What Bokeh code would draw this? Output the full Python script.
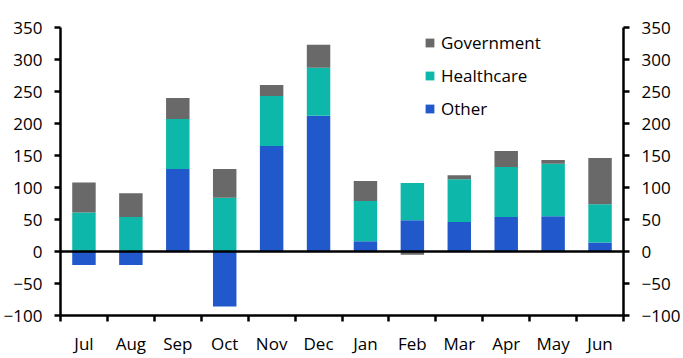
from bokeh.plotting import figure
from bokeh.models import (ColumnDataSource, LinearAxis, FixedTicker, Span, Range1d,
                          Legend, LegendItem)
from bokeh.embed import file_html
from bokeh.resources import INLINE

months = ["Jul", "Aug", "Sep", "Oct", "Nov", "Dec", "Jan", "Feb", "Mar", "Apr", "May", "Jun"]
other = [-21, -21, 129, -86, 165, 212, 16, 49, 46, 54, 55, 14]
healthcare = [61, 54, 78, 84, 78, 75, 63, 58, 67, 78, 82, 60]
government = [47, 37, 33, 45, 17, 36, 31, -5, 6, 25, 6, 72]
y_ticks = [-100, -50, 0, 50, 100, 150, 200, 250, 300, 350]

series = [("Other", other, "#2158cc"),
          ("Healthcare", healthcare, "#0db8aa"),
          ("Government", government, "#696969")]

FONT = "Open Sans"
FS = "17px"

p = figure(width=683, height=358, output_backend="svg", toolbar_location=None,
           x_range=Range1d(0, len(months)), y_range=Range1d(y_ticks[0], y_ticks[-1]),
           min_border_left=60, min_border_right=60, min_border_top=27, min_border_bottom=43)
p.outline_line_color = None
p.xgrid.visible = False
p.ygrid.visible = False
p.background_fill_color = "white"
p.border_fill_color = "white"

xs = [i + 0.5 for i in range(len(months))]
pos = [0.0] * len(months)
neg = [0.0] * len(months)
renderers = {}
for name, vals, color in series:
    bottoms, tops = [], []
    for i, v in enumerate(vals):
        if v >= 0:
            bottoms.append(pos[i]); tops.append(pos[i] + v); pos[i] += v
        else:
            bottoms.append(neg[i] + v); tops.append(neg[i]); neg[i] += v
    src = ColumnDataSource(dict(x=xs, top=tops, bottom=bottoms))
    renderers[name] = p.vbar(x="x", top="top", bottom="bottom", width=0.5, source=src,
                             fill_color=color, line_color=None)

p.add_layout(Span(location=0, dimension="width", line_color="black", line_width=2.5))

# x axis
xa = p.xaxis[0]
xa.ticker = FixedTicker(ticks=xs, minor_ticks=list(range(len(months) + 1)))
xa.major_label_overrides = {x: m for x, m in zip(xs, months)}
xa.major_tick_out = 0
xa.major_tick_in = 0
xa.minor_tick_out = 6
xa.minor_tick_in = 0
xa.minor_tick_line_width = 2.5
xa.minor_tick_line_color = "black"
xa.axis_line_width = 2.5
xa.axis_line_color = "black"
xa.major_label_text_font = FONT
xa.major_label_text_font_size = FS
xa.major_label_text_color = "black"
xa.major_label_standoff = 10

# y axes
ya = p.yaxis[0]
ra = LinearAxis()
p.add_layout(ra, "right")
for ax in (ya, ra):
    ax.ticker = FixedTicker(ticks=y_ticks)
    ax.major_tick_out = 6
    ax.major_tick_in = 0
    ax.minor_tick_out = 0
    ax.minor_tick_in = 0
    ax.major_tick_line_width = 2.5
    ax.axis_line_width = 2.5
    ax.axis_line_color = "black"
    ax.major_tick_line_color = "black"
    ax.major_label_text_font = FONT
    ax.major_label_text_font_size = FS
    ax.major_label_text_color = "black"
    ax.major_label_standoff = 12

legend = Legend(items=[LegendItem(label="Government", renderers=[renderers["Government"]]),
                       LegendItem(label="Healthcare", renderers=[renderers["Healthcare"]]),
                       LegendItem(label="Other", renderers=[renderers["Other"]])],
                location=(364, 195), padding=0, margin=0, spacing=10,
                glyph_width=11, glyph_height=11, label_height=20, label_standoff=6,
                label_text_font=FONT, label_text_font_size=FS, label_text_color="black",
                border_line_color=None, background_fill_alpha=0)
p.add_layout(legend, "center")

open("out.html", "w").write(file_html(p, INLINE))
